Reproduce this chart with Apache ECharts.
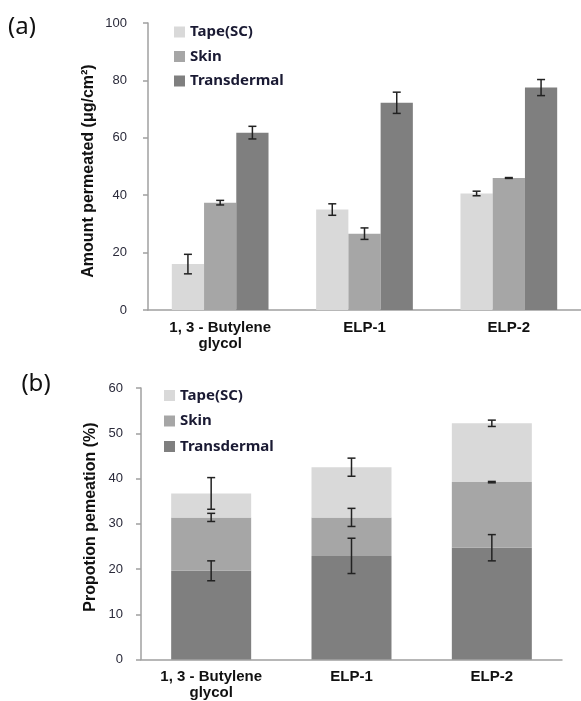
<!DOCTYPE html>
<html>
<head>
<meta charset="utf-8">
<script src="https://cdn.jsdelivr.net/npm/echarts@6/dist/echarts.min.js"></script>
<style>
html,body{margin:0;padding:0;background:#fff;}
#main{width:581px;height:701px;}
</style>
</head>
<body>
<div id="main"></div>
<script>
// ---- data ----
var categories = ['1, 3 - Butylene\nglycol', 'ELP-1', 'ELP-2'];
var seriesNames = ['Tape(SC)', 'Skin', 'Transdermal'];
var colors = ['#d9d9d9', '#a6a6a6', '#7f7f7f'];

// (a) Amount permeated (μg/cm²)
var amountTape = [16.0, 35.0, 40.6];
var amountTapeErr = [3.4, 2.0, 0.8];
var amountSkin = [37.4, 26.6, 46.0];
var amountSkinErr = [0.8, 2.0, 0.15];
var amountTrans = [61.8, 72.2, 77.5];
var amountTransErr = [2.2, 3.7, 2.8];
var amountTicks = [0, 20, 40, 60, 80, 100];

// (b) Proportion permeation (%) – stacked
var propTrans = [19.6, 22.9, 24.7];
var propTransErr = [2.2, 3.9, 2.9];
var propSkin = [11.8, 8.5, 14.5];
var propSkinErr = [0.9, 2.0, 0.15];
var propTape = [5.3, 11.1, 13.0];
var propTapeErr = [3.5, 2.0, 0.7];
var propTicks = [0, 10, 20, 30, 40, 50, 60];

// ---- helpers ----
var GAP = 0.33;
function errRender(offsetIdx, nBars, gap) {
  return function (params, api) {
    var x = api.value(0), v = api.value(1), e = api.value(2);
    var band = api.size([1, 0])[0];
    var bw = band * (1 - gap) / nBars;
    var c = api.coord([x, v]);
    var cx = c[0] + offsetIdx * bw;
    var hi = api.coord([x, v + e])[1];
    var lo = api.coord([x, v - e])[1];
    var cap = 4;
    var st = { stroke: '#222', lineWidth: 1.5 };
    return {
      type: 'group',
      children: [
        { type: 'line', shape: { x1: cx, y1: hi, x2: cx, y2: lo }, style: st },
        { type: 'line', shape: { x1: cx - cap, y1: hi, x2: cx + cap, y2: hi }, style: st },
        { type: 'line', shape: { x1: cx - cap, y1: lo, x2: cx + cap, y2: lo }, style: st }
      ]
    };
  };
}
function errData(vals, errs) {
  return vals.map(function (v, i) { return [i, v, errs[i]]; });
}
function cum(a, b) { return a.map(function (v, i) { return v + (b ? b[i] : 0); }); }

var propSkinTop = cum(propTrans, propSkin);
var propTapeTop = cum(propSkinTop, propTape);

var axisLineStyle = { color: '#a0a0a0', width: 1.5 };
var tickFont = { fontFamily: 'Liberation Sans, Arial, sans-serif', fontSize: 13, color: '#2a2a3a' };
var catFont = { fontFamily: 'Liberation Sans, Arial, sans-serif', fontSize: 15, fontWeight: 'bold', color: '#111', lineHeight: 16 };
var legendText = { fontFamily: 'Noto Sans, sans-serif', fontSize: 15, fontWeight: 'bold', color: '#1a1a33' };

var chart = echarts.init(document.getElementById('main'), null, { renderer: 'canvas' });

var option = {
  animation: false,
  backgroundColor: '#fff',
  grid: [
    { left: 148, top: 23, width: 434, height: 287 },
    { left: 141, top: 388, width: 421, height: 271.5 }
  ],
  xAxis: [
    { type: 'category', gridIndex: 0, data: categories,
      axisLine: { lineStyle: axisLineStyle }, axisTick: { show: false },
      axisLabel: Object.assign({ interval: 0, margin: 10 }, catFont) },
    { type: 'category', gridIndex: 1, data: categories,
      axisLine: { lineStyle: axisLineStyle }, axisTick: { show: false },
      axisLabel: Object.assign({ interval: 0, margin: 9 }, catFont) }
  ],
  yAxis: [
    { type: 'value', gridIndex: 0, min: amountTicks[0], max: amountTicks[amountTicks.length - 1], interval: 20,
      splitLine: { show: false },
      axisLine: { show: true, lineStyle: axisLineStyle },
      axisTick: { show: true, length: 5, lineStyle: axisLineStyle },
      axisLabel: Object.assign({ margin: 21 }, tickFont) },
    { type: 'value', gridIndex: 1, min: propTicks[0], max: propTicks[propTicks.length - 1], interval: 10,
      splitLine: { show: false },
      axisLine: { show: true, lineStyle: axisLineStyle },
      axisTick: { show: true, length: 5, lineStyle: axisLineStyle },
      axisLabel: Object.assign({ margin: 18 }, tickFont) }
  ],
  legend: [
    { data: seriesNames, orient: 'vertical', left: 174, top: 24.5, padding: 0, itemWidth: 11, itemHeight: 11,
      itemGap: 9.5, icon: 'rect', textStyle: legendText, selectedMode: false },
    { data: seriesNames, orient: 'vertical', left: 164, top: 388, padding: 0, itemWidth: 11, itemHeight: 11,
      itemGap: 10.5, icon: 'rect', textStyle: legendText, selectedMode: false }
  ],
  graphic: [
    { type: 'text', x: 22, y: 27, style: { text: '(a)', fontFamily: 'Noto Sans, sans-serif', fontSize: 24, fill: '#111', align: 'center', verticalAlign: 'middle' } },
    { type: 'text', x: 36, y: 384, style: { text: '(b)', fontFamily: 'Noto Sans, sans-serif', fontSize: 24, fill: '#111', align: 'center', verticalAlign: 'middle' } },
    { type: 'text', x: 89, y: 171, rotation: Math.PI / 2,
      style: { text: 'Amount permeated (μg/cm²)', fontFamily: 'Liberation Sans, Arial, sans-serif', fontSize: 16, fontWeight: 'bold', fill: '#111', align: 'center', verticalAlign: 'middle' } },
    { type: 'text', x: 91, y: 517, rotation: Math.PI / 2,
      style: { text: 'Propotion pemeation (%)', fontFamily: 'Liberation Sans, Arial, sans-serif', fontSize: 16, fontWeight: 'bold', fill: '#111', align: 'center', verticalAlign: 'middle' } }
  ],
  series: [
    // (a) grouped bars
    { name: seriesNames[0], type: 'bar', xAxisIndex: 0, yAxisIndex: 0, data: amountTape,
      itemStyle: { color: colors[0] }, barGap: '0%', barCategoryGap: '33%' },
    { name: seriesNames[1], type: 'bar', xAxisIndex: 0, yAxisIndex: 0, data: amountSkin,
      itemStyle: { color: colors[1] }, barGap: '0%', barCategoryGap: '33%' },
    { name: seriesNames[2], type: 'bar', xAxisIndex: 0, yAxisIndex: 0, data: amountTrans,
      itemStyle: { color: colors[2] }, barGap: '0%', barCategoryGap: '33%' },
    { type: 'custom', xAxisIndex: 0, yAxisIndex: 0, data: errData(amountTape, amountTapeErr), renderItem: errRender(-1, 3, GAP), z: 5, encode: { x: 0, y: 1 } },
    { type: 'custom', xAxisIndex: 0, yAxisIndex: 0, data: errData(amountSkin, amountSkinErr), renderItem: errRender(0, 3, GAP), z: 5, encode: { x: 0, y: 1 } },
    { type: 'custom', xAxisIndex: 0, yAxisIndex: 0, data: errData(amountTrans, amountTransErr), renderItem: errRender(1, 3, GAP), z: 5, encode: { x: 0, y: 1 } },
    // (b) stacked bars
    { name: seriesNames[2], type: 'bar', xAxisIndex: 1, yAxisIndex: 1, stack: 'p', data: propTrans,
      itemStyle: { color: colors[2] }, barCategoryGap: '43%' },
    { name: seriesNames[1], type: 'bar', xAxisIndex: 1, yAxisIndex: 1, stack: 'p', data: propSkin,
      itemStyle: { color: colors[1] }, barCategoryGap: '43%' },
    { name: seriesNames[0], type: 'bar', xAxisIndex: 1, yAxisIndex: 1, stack: 'p', data: propTape,
      itemStyle: { color: colors[0] }, barCategoryGap: '43%' },
    { type: 'custom', xAxisIndex: 1, yAxisIndex: 1, data: errData(propTrans, propTransErr), renderItem: errRender(0, 1, 0.43), z: 5, encode: { x: 0, y: 1 } },
    { type: 'custom', xAxisIndex: 1, yAxisIndex: 1, data: errData(propSkinTop, propSkinErr), renderItem: errRender(0, 1, 0.43), z: 5, encode: { x: 0, y: 1 } },
    { type: 'custom', xAxisIndex: 1, yAxisIndex: 1, data: errData(propTapeTop, propTapeErr), renderItem: errRender(0, 1, 0.43), z: 5, encode: { x: 0, y: 1 } }
  ]
};
chart.setOption(option);
</script>
</body>
</html>
